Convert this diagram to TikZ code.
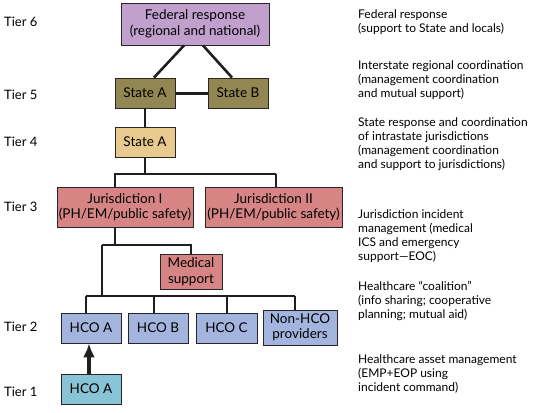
\documentclass[tikz,border=0pt]{standalone}
\usepackage{fontspec}
\setmainfont{Lato}
\usetikzlibrary{arrows.meta,positioning}
\definecolor{fedcol}{RGB}{194,160,205}
\definecolor{statecol}{RGB}{146,134,82}
\definecolor{tancol}{RGB}{232,202,142}
\definecolor{jurcol}{RGB}{214,132,132}
\definecolor{hcocol}{RGB}{163,181,222}
\definecolor{assetcol}{RGB}{137,196,214}
\tikzset{font=\fontsize{12}{14.3}\selectfont}
\tikzset{tier/.style={anchor=west,inner sep=0pt,font=\fontsize{13}{15}\selectfont}}
\tikzset{box/.style={draw=black!85,line width=0.9pt,align=center,inner sep=1pt,minimum height=30pt,font=\fontsize{13.5}{15.5}\selectfont}}
\tikzset{note/.style={anchor=north west,align=left,inner sep=0pt}}
\tikzset{bar/.style={line width=2.6pt,draw=black!88}}
\tikzset{drop/.style={line width=1.6pt,draw=black!88}}

\begin{document}
\begin{tikzpicture}[x=1pt,y=-1pt]
\useasboundingbox (0,0) rectangle (550,413);
\node[tier] (t6) at (4,22) {Tier 6};
\node[tier] (t5) at (4,95) {Tier 5};
\node[tier] (t4) at (4,142) {Tier 4};
\node[tier] (t3) at (4,207) {Tier 3};
\node[tier] (t2) at (4,327) {Tier 2};
\node[tier] (t1) at (4,392) {Tier 1};

\node[box,fill=fedcol,minimum width=148pt,minimum height=42pt] (fed) at (195,24) {Federal response\\(regional and national)};
\node[box,fill=statecol,minimum width=60pt] (sa5) at (145,93) {State A};
\node[box,fill=statecol,minimum width=60pt] (sb5) at (238,93) {State B};
\node[box,fill=tancol,minimum width=60pt] (sa4) at (145,142) {State A};
\node[box,fill=jurcol,minimum width=136pt,minimum height=40pt] (jur1) at (125,207) {Jurisdiction I\\(PH/EM/public safety)};
\node[box,fill=jurcol,minimum width=137pt,minimum height=40pt] (jur2) at (273.5,207) {Jurisdiction II\\(PH/EM/public safety)};
\node[box,fill=jurcol,minimum width=62pt,minimum height=35pt] (med) at (191,271.5) {Medical\\support};
\node[box,fill=hcocol,minimum width=60pt] (hcoa) at (91,328) {HCO A};
\node[box,fill=hcocol,minimum width=60pt] (hcob) at (158,328) {HCO B};
\node[box,fill=hcocol,minimum width=61pt] (hcoc) at (226.5,328) {HCO C};
\node[box,fill=hcocol,minimum width=74pt,minimum height=35pt] (nonhco) at (300,327.5) {Non-HCO\\providers};
\node[box,fill=assetcol,minimum width=60pt] (hcoa1) at (91,389) {HCO A};

\node[note] (n6) at (358,9) {Federal response\\(support to State and locals)};
\node[note] (n5) at (358,60) {Interstate regional coordination\\(management coordination\\and mutual support)};
\node[note] (n4) at (358,117) {State response and coordination\\of intrastate jurisdictions\\(management coordination\\and support to jurisdictions)};
\node[note] (n3) at (358,209) {Jurisdiction incident\\management (medical\\ICS and emergency\\support—EOC)};
\node[note] (n2) at (358,281) {Healthcare “coalition”\\(info sharing; cooperative\\planning; mutual aid)};
\node[note] (n1) at (358,354) {Healthcare asset management\\(EMP+EOP using\\incident command)};

\coordinate (b3) at (145,174);
\coordinate (b3m) at (102,245);
\coordinate (b2) at (102,296);

\draw[bar] ([xshift=-11pt]fed.south) -- ([xshift=9pt]sa5.north);
\draw[bar] ([xshift=8pt]fed.south) -- ([xshift=-6pt]sb5.north);
\draw[bar,line width=3pt] (sa5.east) -- (sb5.west);
\draw[bar] (sa5.south) -- (sa4.north);
\draw[bar] (sa4.south) -- (b3);
\draw[drop] ([xshift=-10pt]jur1.north) |- ([xshift=2.5pt]jur2.north |- b3);
\draw[bar] ([xshift=2.5pt]jur2.north |- b3) -- ([xshift=2.5pt]jur2.north);
\draw[drop] ([xshift=-10pt]jur1.south) -- ([xshift=-10pt]jur1.south |- b3m);
\draw[bar] (b3m) -| (med.north);
\draw[bar] (b3m) -- (b2);
\draw[bar] ([xshift=-5pt]hcoa.north |- b2) -- ([xshift=-5pt]nonhco.north |- b2);
\draw[drop] ([xshift=-5pt]hcoa.north |- b2) -- ([xshift=-5pt]hcoa.north);
\draw[drop] ([xshift=-4pt]hcob.north |- b2) -- ([xshift=-4pt]hcob.north);
\draw[bar] ([xshift=0.5pt]hcoc.north |- b2) -- ([xshift=0.5pt]hcoc.north);
\draw[drop] ([xshift=-5pt]nonhco.north |- b2) -- ([xshift=-5pt]nonhco.north);
\draw[bar,line width=3.4pt,-{Latex[length=14pt,width=12pt]}] ([xshift=-2pt]hcoa1.north) -- ([xshift=-2pt]hcoa.south);
\end{tikzpicture}
\end{document}
